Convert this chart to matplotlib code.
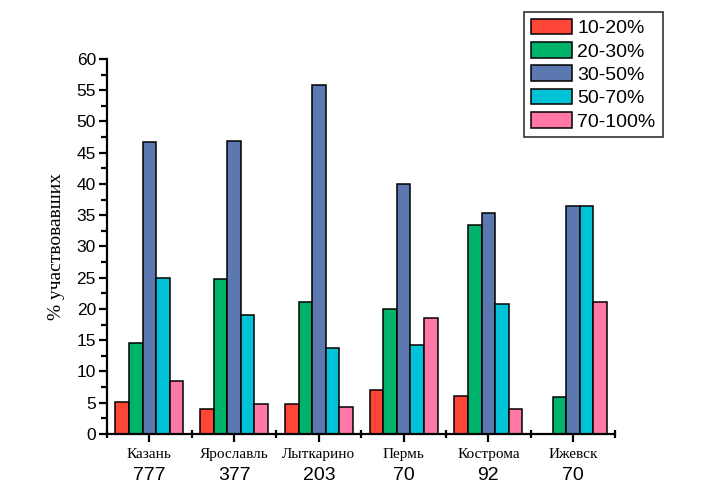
import numpy as np
import matplotlib
matplotlib.use('Agg')
import matplotlib.pyplot as plt
from matplotlib.ticker import MultipleLocator

cities = ['Казань', 'Ярославль', 'Лыткарино', 'Пермь', 'Кострома', 'Ижевск']
counts = ['777', '377', '203', '70', '92', '70']
groups = ['10-20%', '20-30%', '30-50%', '50-70%', '70-100%']

v_10_20 = [5.1, 4.0, 4.8, 7.0, 6.0, 0.0]
v_20_30 = [14.5, 24.8, 21.1, 20.0, 33.4, 5.9]
v_30_50 = [46.7, 46.8, 55.8, 40.0, 35.3, 36.4]
v_50_70 = [24.9, 19.0, 13.7, 14.2, 20.8, 36.4]
v_70_100 = [8.4, 4.8, 4.3, 18.5, 4.0, 21.1]
series = [v_10_20, v_20_30, v_30_50, v_50_70, v_70_100]
colors = ['#FF4535', '#00B36A', '#5B78B0', '#00C3D8', '#FF78A8']

fig = plt.figure(figsize=(7.03, 4.94), dpi=100)
ax = fig.add_axes([0.1522, 0.1215, 0.7233, 0.7591])

x = np.arange(len(cities))
w = 0.16
for i, (vals, c, lab) in enumerate(zip(series, colors, groups)):
    ax.bar(x + (i - 2) * w, vals, w, color=c, edgecolor='black', linewidth=1.1, label=lab)

ax.set_xlim(-0.5, 5.5)
ax.set_ylim(0, 60)
ax.yaxis.set_major_locator(MultipleLocator(5))
ax.yaxis.set_minor_locator(MultipleLocator(2.5))
ax.set_xticks(x)
ax.set_xticks(np.arange(-0.5, 6, 1), minor=True)
ax.set_xticklabels([])

for s in ['top', 'right']:
    ax.spines[s].set_visible(False)
for s in ['left', 'bottom']:
    ax.spines[s].set_linewidth(1.6)

ax.tick_params(axis='both', which='major', length=6, width=1.6, labelsize=12.5, pad=2)
ax.tick_params(axis='both', which='minor', length=4, width=1.6)
ax.tick_params(axis='x', which='minor', direction='inout', length=6)
for t in ax.get_yticklabels():
    t.set_fontfamily('Liberation Sans')

for xi, name, n in zip(x, cities, counts):
    ax.text(xi, -0.055, name, transform=ax.get_xaxis_transform(), ha='center', va='center',
            fontfamily='Liberation Serif', fontsize=11)
    ax.text(xi, -0.11, n, transform=ax.get_xaxis_transform(), ha='center', va='center',
            fontfamily='Liberation Sans', fontsize=14)

ax.set_ylabel('% участвовавших', fontfamily='Liberation Serif', fontsize=14, labelpad=8)

leg = fig.legend(loc='upper left', bbox_to_anchor=(524 / 703, 1 - 12 / 494), frameon=True,
                 fancybox=False, edgecolor='black', prop={'family': 'Liberation Sans', 'size': 14},
                 handlelength=2.1, handleheight=0.85, handletextpad=0.3, labelspacing=0.25,
                 borderpad=0.35, borderaxespad=0)
leg.get_frame().set_linewidth(1.2)

fig.savefig('out.png', dpi=100)
